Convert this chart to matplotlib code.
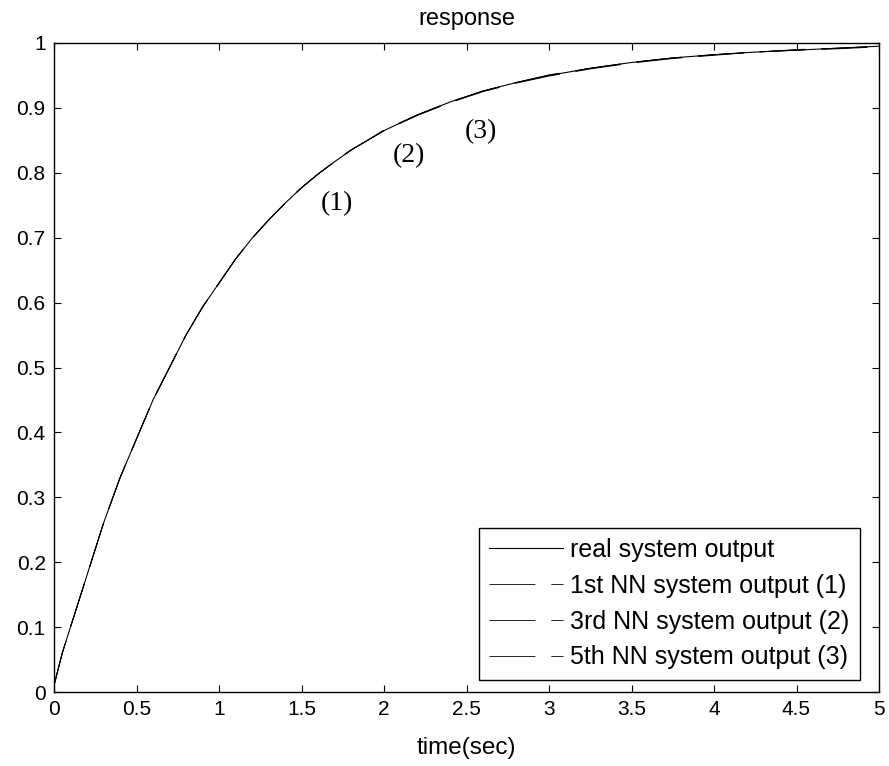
import matplotlib
matplotlib.use('Agg')
import matplotlib.pyplot as plt

plt.rcParams['font.family'] = ['Liberation Sans', 'DejaVu Sans']
plt.rcParams['lines.scale_dashes'] = False

# values
time = [0, 0.05, 0.1, 0.2, 0.3, 0.4, 0.5, 0.6, 0.7, 0.8, 0.9, 1.0, 1.1, 1.2, 1.3, 1.4, 1.5,
        1.6, 1.7, 1.8, 1.9, 2.0, 2.2, 2.4, 2.6, 2.8, 3.0, 3.25, 3.5, 3.75, 4.0, 4.25, 4.5,
        4.75, 5.0]
real_out = [0.01, 0.06, 0.10, 0.18, 0.26, 0.33, 0.39, 0.45, 0.50, 0.55, 0.593, 0.63, 0.667,
            0.699, 0.727, 0.753, 0.777, 0.798, 0.817, 0.835, 0.85, 0.865, 0.889, 0.909, 0.926,
            0.939, 0.95, 0.961, 0.97, 0.977, 0.982, 0.986, 0.989, 0.992, 0.995]
nn1_out = [0.01, 0.06, 0.10, 0.18, 0.26, 0.33, 0.39, 0.45, 0.50, 0.55, 0.593, 0.63, 0.667,
           0.699, 0.727, 0.753, 0.777, 0.798, 0.817, 0.835, 0.85, 0.865, 0.888, 0.908, 0.925,
           0.938, 0.949, 0.96, 0.969, 0.976, 0.981, 0.986, 0.989, 0.991, 0.994]
nn3_out = [0.01, 0.06, 0.10, 0.18, 0.26, 0.33, 0.39, 0.45, 0.50, 0.55, 0.593, 0.63, 0.667,
           0.699, 0.727, 0.753, 0.777, 0.798, 0.817, 0.835, 0.85, 0.866, 0.889, 0.909, 0.926,
           0.939, 0.951, 0.961, 0.97, 0.977, 0.982, 0.986, 0.99, 0.992, 0.995]
nn5_out = [0.01, 0.06, 0.10, 0.18, 0.26, 0.33, 0.39, 0.45, 0.50, 0.55, 0.593, 0.63, 0.667,
           0.699, 0.727, 0.753, 0.777, 0.798, 0.817, 0.835, 0.85, 0.865, 0.889, 0.909, 0.926,
           0.939, 0.95, 0.961, 0.97, 0.977, 0.982, 0.986, 0.989, 0.992, 0.995]
labels = ['real system output', '1st NN system output (1)',
          '3rd NN system output (2)', '5th NN system output (3)']
marks = ['(1)', '(2)', '(3)']
mark_t = [1.715, 2.15, 2.59]
mark_y = [0.753, 0.827, 0.863]

fig = plt.figure(figsize=(8.89, 7.66), dpi=100)
ax = fig.add_axes([54 / 889, 1 - 692 / 766, 825 / 889, 649 / 766])

ax.plot(time, real_out, color='black', lw=0.8, label=labels[0])
dash = (0, (33, 11.5))
ax.plot(time, nn1_out, color='black', lw=0.6, linestyle=dash, label=labels[1])
ax.plot(time, nn3_out, color='black', lw=0.6, linestyle=dash, label=labels[2])
ax.plot(time, nn5_out, color='black', lw=0.6, linestyle=dash, label=labels[3])

for m, tx, ty in zip(marks, mark_t, mark_y):
    ax.text(tx, ty, m, ha='center', va='center', fontsize=20, family=['Liberation Serif'])

ax.set_xlim(0, 5)
ax.set_ylim(0, 1)
ax.set_xticks([0, 0.5, 1, 1.5, 2, 2.5, 3, 3.5, 4, 4.5, 5])
ax.set_xticklabels(['0', '0.5', '1', '1.5', '2', '2.5', '3', '3.5', '4', '4.5', '5'])
ax.set_yticks([0, 0.1, 0.2, 0.3, 0.4, 0.5, 0.6, 0.7, 0.8, 0.9, 1])
ax.set_yticklabels(['0', '0.1', '0.2', '0.3', '0.4', '0.5', '0.6', '0.7', '0.8', '0.9', '1'])
ax.tick_params(direction='in', length=5, width=0.8, top=True, right=True, labelsize=15, pad=6)
for s in ax.spines.values():
    s.set_linewidth(1.0)

ax.set_title('response', fontsize=17, pad=13)
ax.set_xlabel('time(sec)', fontsize=17.5, labelpad=13)

leg = ax.legend(loc='lower right', bbox_to_anchor=(0.977, 0.0185), borderaxespad=0,
                fontsize=18, handlelength=2.95, handletextpad=0.3, fancybox=False,
                framealpha=1, edgecolor='black', labelspacing=0.47, borderpad=0.42)
leg.get_frame().set_linewidth(1.0)

fig.savefig('out.png', dpi=100, facecolor='white')
